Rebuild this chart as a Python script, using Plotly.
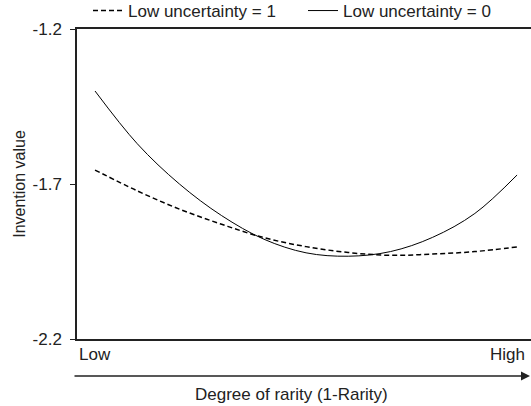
import plotly.graph_objects as go

x_pos = [0.0, 0.1, 0.2, 0.3, 0.4, 0.5, 0.6, 0.7, 0.8, 0.9, 1.0]
low_unc_1 = [-1.655, -1.722, -1.781, -1.830, -1.873, -1.902, -1.921, -1.930, -1.926, -1.918, -1.903]
low_unc_0 = [-1.400, -1.570, -1.700, -1.802, -1.878, -1.922, -1.933, -1.918, -1.872, -1.795, -1.671]
y_ticks = [-2.2, -1.7, -1.2]
series_names = ["Low uncertainty = 1", "Low uncertainty = 0"]

FONT = "Liberation Sans, Arial, sans-serif"
FS = 17

fig = go.Figure()
fig.add_trace(go.Scatter(x=x_pos, y=low_unc_1, mode="lines", name=series_names[0],
                         line=dict(color="black", width=1.5, dash="5px,3px", shape="spline")))
fig.add_trace(go.Scatter(x=x_pos, y=low_unc_0, mode="lines", name=series_names[1],
                         line=dict(color="black", width=1, shape="spline")))

fig.update_layout(
    width=531, height=406,
    margin=dict(l=77, r=0, t=29, b=67, autoexpand=False),
    plot_bgcolor="white", paper_bgcolor="white",
    font=dict(family=FONT, size=FS, color="#222"),
    showlegend=True,
    legend=dict(orientation="h", x=(88 - 77) / 454, xanchor="left", y=1.0, yanchor="bottom",
                font=dict(size=FS), itemwidth=30, bgcolor="rgba(0,0,0,0)",
                tracegroupgap=0, borderwidth=0, entrywidth=170, entrywidthmode="pixels"),
    xaxis=dict(range=[-0.0427, 1.033], showgrid=False, zeroline=False,
               showline=True, linecolor="#222", linewidth=1.5, mirror=True,
               showticklabels=False, ticks=""),
    yaxis=dict(range=[-2.2, -1.2], tickvals=y_ticks, ticktext=["-2.2", "-1.7", "-1.2"],
               showgrid=False, zeroline=False, showline=True, linecolor="#222",
               linewidth=1.5, ticks="outside", ticklen=5, tickcolor="#222",
               tickfont=dict(size=FS), ticklabelstandoff=5,
               title=dict(text="Invention value", font=dict(size=FS - 1), standoff=3)),
)

fig.add_annotation(text="Low", xref="paper", yref="paper", x=0, y=0, xanchor="left",
                   yanchor="top", yshift=-4, showarrow=False, font=dict(size=FS))
fig.add_annotation(text="High", xref="paper", yref="paper", x=(488 - 77) / 454, y=0,
                   xanchor="left", yanchor="top", yshift=-4, showarrow=False, font=dict(size=FS))
fig.add_annotation(text="", xref="paper", yref="paper", axref="pixel", ayref="pixel",
                   x=1.0, y=-37 / 310, ax=-458, ay=0, showarrow=True, arrowhead=2,
                   arrowsize=1.2, arrowwidth=1.5, arrowcolor="#222")
fig.add_annotation(text="Degree of rarity (1-Rarity)", xref="paper", yref="paper",
                   x=(291 - 77) / 454, y=-55 / 310, xanchor="center", yanchor="middle",
                   showarrow=False, font=dict(size=FS))

fig.write_html(
    "out.html",
    config={"displayModeBar": False},
    post_script="document.body.style.margin='0';document.body.style.overflow='hidden';",
)
